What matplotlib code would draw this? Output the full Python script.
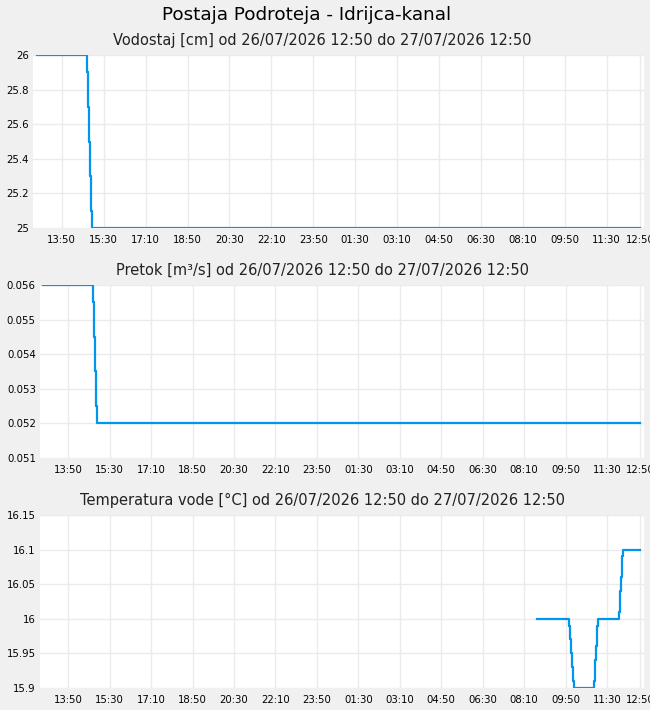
import matplotlib.pyplot as plt
from matplotlib.ticker import FuncFormatter

# minute offsets from 26/07/2026 12:50
vod_t = [0, 120, 122, 125, 127, 130, 132, 1440]
vod_v = [26.0, 25.9, 25.7, 25.5, 25.3, 25.1, 25.0, 25.0]

pre_t = [0, 120, 122, 125, 127, 130, 1440]
pre_v = [0.056, 0.0555, 0.0545, 0.0535, 0.0525, 0.052, 0.052]

tem_t = [1190, 1268, 1271, 1273, 1276, 1278, 1281,
         1329, 1331, 1334, 1336, 1338,
         1389, 1392, 1394, 1396, 1399, 1440]
tem_v = [16.0, 15.99, 15.97, 15.95, 15.93, 15.91, 15.9,
         15.91, 15.94, 15.96, 15.99, 16.0,
         16.01, 16.04, 16.06, 16.09, 16.1, 16.1]

x_ticks = [60, 160, 260, 360, 460, 560, 660, 760, 860, 960, 1060, 1160, 1260, 1360, 1440]
x_labels = ['13:50', '15:30', '17:10', '18:50', '20:30', '22:10', '23:50', '01:30',
            '03:10', '04:50', '06:30', '08:10', '09:50', '11:30', '12:50']

panels = [
    ('Vodostaj [cm] od 26/07/2026 12:50 do 27/07/2026 12:50', vod_t, vod_v,
     (25, 26), [25, 25.2, 25.4, 25.6, 25.8, 26]),
    ('Pretok [m³/s] od 26/07/2026 12:50 do 27/07/2026 12:50', pre_t, pre_v,
     (0.051, 0.056), [0.051, 0.052, 0.053, 0.054, 0.055, 0.056]),
    ('Temperatura vode [°C] od 26/07/2026 12:50 do 27/07/2026 12:50', tem_t, tem_v,
     (15.9, 16.15), [15.9, 15.95, 16, 16.05, 16.1, 16.15]),
]

bg = '#f0f0f0'
line_c = '#0096ee'
grid_c = '#ebebeb'

fig = plt.figure(figsize=(6.5, 7.1), dpi=100, facecolor=bg)
fig.text(0.471, 0.9725, 'Postaja Podroteja - Idrijca-kanal', ha='center', va='baseline',
         fontsize=13.2)

rects = [
    [0.0512, 0.6789, 0.9396, 0.2436],
    [0.0615, 0.3554, 0.9293, 0.2432],
    [0.0615, 0.0314, 0.9293, 0.2432],
]

for rect, (title, t, v, ylim, yt) in zip(rects, panels):
    ax = fig.add_axes(rect)
    ax.set_facecolor('white')
    ax.plot(t, v, color=line_c, lw=1.6, drawstyle='steps-post')
    ax.set_xlim(-8, 1449)
    ax.set_ylim(*ylim)
    ax.set_xticks(x_ticks)
    ax.set_xticklabels(x_labels)
    ax.set_yticks(yt)
    ax.yaxis.set_major_formatter(FuncFormatter(lambda y, p: '%g' % round(y, 4)))
    ax.grid(True, color=grid_c, lw=1)
    ax.set_axisbelow(True)
    for s in ax.spines.values():
        s.set_visible(False)
    ax.tick_params(length=0, labelsize=7.3, pad=3)
    ax.tick_params(axis='x', pad=5)
    # subtitles sit centred on the figure, not on the axes
    tx = (0.4962 - rect[0]) / rect[2]
    ax.set_title(title, fontsize=10.5, pad=7, color='#222222', x=tx)

fig.savefig('out.png', dpi=100, facecolor=bg)
